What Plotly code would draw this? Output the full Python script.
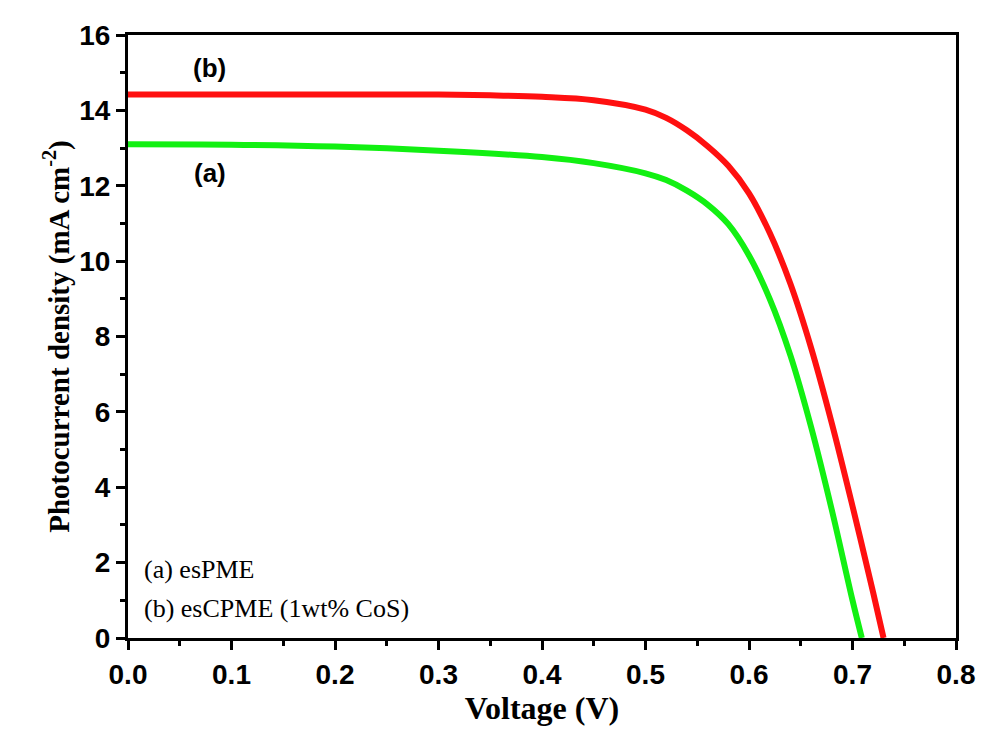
import plotly.graph_objects as go

# Curve (a) esPME
v_a = [0.0, 0.10, 0.20, 0.30, 0.40, 0.45, 0.50, 0.52, 0.54, 0.56, 0.58, 0.60, 0.62, 0.64, 0.66, 0.68, 0.70, 0.709]
j_a = [13.10, 13.09, 13.04, 12.93, 12.76, 12.60, 12.33, 12.15, 11.87, 11.50, 10.98, 10.15, 9.00, 7.50, 5.60, 3.40, 1.00, 0.0]

# Curve (b) esCPME (1wt% CoS)
v_b = [0.0, 0.10, 0.20, 0.30, 0.35, 0.40, 0.45, 0.50, 0.52, 0.54, 0.56, 0.58, 0.60, 0.62, 0.64, 0.66, 0.68, 0.70, 0.72, 0.73]
j_b = [14.42, 14.42, 14.42, 14.42, 14.40, 14.36, 14.27, 14.02, 13.80, 13.47, 13.05, 12.53, 11.80, 10.75, 9.40, 7.70, 5.70, 3.50, 1.20, 0.0]

x_ticks = [0.0, 0.1, 0.2, 0.3, 0.4, 0.5, 0.6, 0.7, 0.8]
y_ticks = [0, 2, 4, 6, 8, 10, 12, 14, 16]

fig = go.Figure()
fig.add_trace(go.Scatter(x=v_a, y=j_a, mode="lines", line=dict(color="#12F012", width=6, shape="spline", smoothing=1.0), showlegend=False))
fig.add_trace(go.Scatter(x=v_b, y=j_b, mode="lines", line=dict(color="#FF1010", width=6, shape="spline", smoothing=1.0), showlegend=False))

tickfont = dict(family="Liberation Sans, Arial", size=28, color="black", weight="bold")
xtitlefont = dict(family="Liberation Serif, Times New Roman", size=32, color="black", weight="bold")
ytitlefont = dict(family="Liberation Serif, Times New Roman", size=29, color="black", weight="bold")

fig.update_xaxes(range=[0, 0.8], tickvals=x_ticks, ticktext=[f"{t:.1f}" for t in x_ticks],
                 showline=True, linewidth=3, linecolor="black", mirror=True,
                 ticks="outside", ticklen=9, tickwidth=3, tickcolor="black",
                 minor=dict(ticks="outside", ticklen=5, tickwidth=3, dtick=0.05, tickcolor="black"),
                 showgrid=False, zeroline=False, tickfont=tickfont,
                 title=dict(text="Voltage (V)", font=xtitlefont, standoff=6))
fig.update_yaxes(range=[0, 16], tickvals=y_ticks,
                 showline=True, linewidth=3, linecolor="black", mirror=True,
                 ticks="outside", ticklen=9, tickwidth=3, tickcolor="black",
                 minor=dict(ticks="outside", ticklen=5, tickwidth=3, dtick=1, tickcolor="black"),
                 showgrid=False, zeroline=False, tickfont=tickfont,
                 title=dict(text="Photocurrent density (mA cm<sup>-2</sup>)", font=ytitlefont, standoff=2))

ann_font = dict(family="Liberation Sans, Arial", size=26, color="black", weight="bold")
fig.add_annotation(x=0.079, y=15.13, text="(b)", showarrow=False, font=ann_font)
fig.add_annotation(x=0.079, y=12.33, text="(a)", showarrow=False, font=ann_font)
leg_font = dict(family="Liberation Serif, Times New Roman", size=26, color="black")
fig.add_annotation(x=0.014, y=1.83, text="(a) esPME", showarrow=False, font=leg_font, xanchor="left")
fig.add_annotation(x=0.014, y=0.79, text="(b) esCPME (1wt% CoS)", showarrow=False, font=leg_font, xanchor="left")

fig.update_layout(width=979, height=730, margin=dict(l=120, r=30, t=19, b=100),
                  plot_bgcolor="white", paper_bgcolor="white")
fig.write_html("out.html")
